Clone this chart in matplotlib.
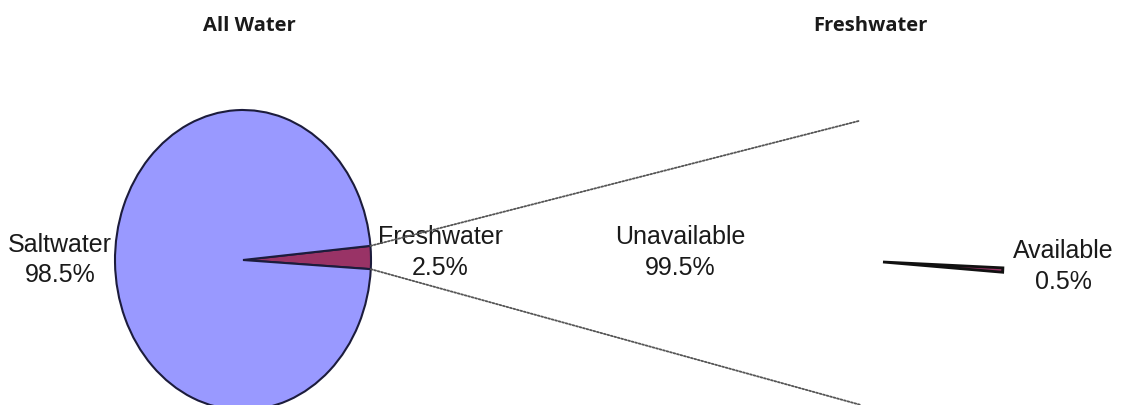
import numpy as np
import matplotlib
matplotlib.use('Agg')
import matplotlib.pyplot as plt
from matplotlib.patches import ConnectionPatch

# data
all_labels = ['Freshwater', 'Saltwater']
all_values = [2.5, 98.5]
fresh_labels = ['Available', 'Unavailable']
fresh_values = [0.5, 99.5]

W, H = 1123, 405
fig = plt.figure(figsize=(W / 100, H / 100), dpi=100)

def px_axes(cx, cy, rx, ry):
    # axes centred on pixel (cx, cy) from top-left, with radii rx, ry in pixels
    return fig.add_axes([(cx - rx) / W, (H - cy - ry) / H, 2 * rx / W, 2 * ry / H])

edge = '#1c1c3c'
label_font = dict(family='Liberation Sans', fontsize=18, color='#1a1a1a',
                  ha='center', va='center', linespacing=1.35)

# left pie: all water
ax1 = px_axes(243, 260, 128, 150)
w1, _ = ax1.pie(all_values, colors=['#993366', '#9999ff'], startangle=-3.5,
                counterclock=True, wedgeprops=dict(edgecolor=edge, linewidth=1.5))
ax1.set_aspect('auto')
ax1.set_xlim(-1, 1)
ax1.set_ylim(-1, 1)
ax1.axis('off')
ax1.text(-1.43, 0.0, '%s\n%.1f%%' % (all_labels[1], all_values[1]), **label_font)
ax1.text(1.54, 0.05, '%s\n%.1f%%' % (all_labels[0], all_values[0]), **label_font)

# right pie: freshwater
ax2 = px_axes(883, 262, 120, 140)
w2, _ = ax2.pie(fresh_values, colors=['#993366', 'none'], startangle=-4.2,
                counterclock=True, wedgeprops=dict(edgecolor='#111111', linewidth=2))
w2[1].set_edgecolor('none')
ax2.set_aspect('auto')
ax2.set_xlim(-1, 1)
ax2.set_ylim(-1, 1)
ax2.axis('off')
ax2.text(-1.69, 0.07, '%s\n%.1f%%' % (fresh_labels[1], fresh_values[1]), **label_font)
ax2.text(1.5, -0.03, '%s\n%.1f%%' % (fresh_labels[0], fresh_values[0]), **label_font)

# connector lines from freshwater slice to second pie
t1 = np.deg2rad(w1[0].theta1)
t2 = np.deg2rad(w1[0].theta2)
for t, yb in [(t2, 1.01), (t1, -1.02)]:
    con = ConnectionPatch(xyA=(np.cos(t), np.sin(t)), coordsA=ax1.transData,
                          xyB=(-0.19, yb), coordsB=ax2.transData,
                          linestyle=(0, (1, 1)), color='#555555', linewidth=1.3)
    fig.add_artist(con)

title_font = dict(family='Open Sans', fontsize=14.5, fontweight='bold', color='#1a1a1a',
                  ha='center', va='center')
fig.text(249 / W, 1 - 26 / H, 'All Water', **title_font)
fig.text(870 / W, 1 - 26 / H, 'Freshwater', **title_font)

fig.savefig('out.png', dpi=100)
